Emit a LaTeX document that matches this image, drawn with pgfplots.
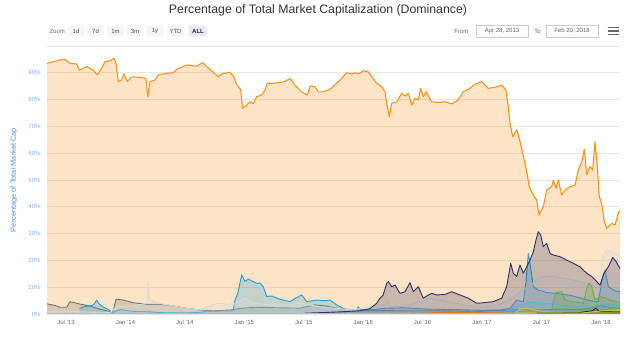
\documentclass[border=0pt]{standalone}
\usepackage{pgfplots}
\usepackage{pgfplotstable}
\pgfplotsset{compat=1.18}
\usepackage{fontspec}
\setmainfont{Liberation Sans}
\definecolor{btc}{HTML}{F7931A}
\definecolor{eth}{HTML}{2C2F66}
\definecolor{xrp}{HTML}{1BA1DA}
\definecolor{oth}{HTML}{DADADA}
\definecolor{ltc}{HTML}{707070}
\definecolor{bch}{HTML}{6AAE45}
\definecolor{tealc}{HTML}{4FB6E0}
\definecolor{yelc}{HTML}{E8C21C}
\definecolor{orsm}{HTML}{E8701C}
\definecolor{blk}{HTML}{222222}
\definecolor{ygr}{HTML}{B8D432}
\definecolor{gridc}{HTML}{E6E6E6}
\definecolor{ytl}{HTML}{8AB0DC}
\definecolor{ylab}{HTML}{4A93DA}
\definecolor{xtl}{HTML}{666666}
\definecolor{btnbg}{HTML}{F6F6F6}
\definecolor{btnsel}{HTML}{E6EBF5}
\newcommand\tb{\fontsize{6}{7}\selectfont}
% month index since Jan 2013 (6 = Jul 2013), share of total market cap in %
\pgfplotstableread{
x y
3.88 93.5
5.19 94.8
5.70 95.0
6.20 93.5
6.88 93.3
7.14 91.0
7.89 92.3
8.55 91.0
8.96 89.2
9.40 91.7
9.73 94.1
10.24 94.5
10.64 95.4
10.85 93.5
11.08 86.7
11.42 87.3
11.65 89.6
11.99 86.7
12.43 88.5
13.27 88.3
13.87 87.9
14.05 81.1
14.28 86.7
14.78 87.3
15.11 89.2
15.96 89.8
16.63 90.0
16.97 91.3
17.98 92.9
18.99 92.5
19.60 93.8
20.00 92.3
21.17 88.5
21.51 89.6
22.35 90.2
22.76 88.5
22.96 86.1
23.43 83.6
23.63 76.8
23.87 77.4
24.37 79.2
24.70 78.6
25.05 81.1
25.55 81.7
25.88 83.6
26.12 86.1
26.72 86.1
27.40 86.4
27.90 86.7
28.41 87.9
28.91 85.4
29.59 82.9
30.16 81.7
30.43 85.1
30.93 84.8
31.27 82.9
31.77 82.9
32.45 83.8
33.12 86.1
33.63 87.9
34.13 90.0
34.64 89.6
34.97 90.0
35.40 89.6
35.81 90.8
36.31 90.4
36.66 88.5
37.16 86.1
37.66 84.8
38.00 82.9
38.17 78.9
38.43 73.6
38.67 78.6
39.18 79.2
39.68 82.3
40.02 81.3
40.35 82.3
40.69 78.0
41.03 80.5
41.36 79.9
41.60 84.2
41.86 81.1
42.14 82.9
42.71 79.2
43.38 78.9
44.06 79.2
44.73 78.4
45.40 79.9
45.90 82.9
46.58 84.2
47.08 85.8
47.76 86.7
48.42 84.2
49.10 84.6
49.78 85.4
50.21 83.6
50.44 77.4
50.62 71.2
50.89 66.2
51.29 68.7
51.55 65.6
51.90 60.0
52.26 54.0
52.56 47.5
52.97 44.4
53.31 42.5
53.54 36.9
53.98 40.0
54.32 46.3
54.82 47.5
54.99 50.0
55.26 46.9
55.49 50.0
55.83 44.4
56.17 46.3
56.67 47.5
57.18 48.1
57.51 53.7
57.85 56.8
58.12 61.5
58.36 51.9
58.69 55.0
58.96 53.7
59.20 64.3
59.43 55.0
59.63 43.8
59.87 41.3
60.10 35.1
60.38 32.0
60.88 33.8
61.21 33.2
61.55 37.6
61.72 38.5
}\btc
\pgfplotstableread{
x y
3.88 3.8
4.69 3.2
5.19 2.5
5.87 2.5
6.20 4.6
7.21 3.7
8.22 3.0
9.23 1.8
10.24 0.9
10.54 0.8
10.85 5.5
11.58 5.2
12.59 4.2
13.94 3.6
15.29 3.6
16.63 3.0
17.98 2.1
19.32 1.5
20.67 1.2
22.35 1.5
23.87 2.3
25.38 2.5
27.40 2.3
29.42 2.2
30.93 3.4
31.94 3.0
33.46 2.0
35.47 1.4
39.51 1.2
43.55 1.2
47.59 1.0
49.61 1.4
51.62 1.6
53.64 1.5
55.66 1.8
57.68 1.6
59.20 2.5
59.70 3.2
60.71 2.4
61.72 2.3
}\ltc
\pgfplotstableread{
x y
7.14 2.1
7.72 2.8
8.22 3.0
8.62 3.5
8.90 5.2
9.13 3.8
9.56 2.5
10.04 1.8
10.54 0.4
10.85 1.2
11.25 1.7
12.56 1.0
14.28 0.8
15.99 0.4
17.81 0.4
19.63 0.7
19.83 1.0
22.66 1.2
22.86 5.2
23.16 8.0
23.53 14.6
23.87 12.1
24.17 13.0
24.54 12.4
25.05 11.4
25.38 11.6
25.71 10.2
26.06 6.5
26.59 6.7
27.40 5.5
28.00 5.0
28.41 4.6
28.91 5.8
29.59 7.1
30.09 4.6
31.10 5.2
31.77 5.0
32.45 5.2
33.12 3.4
33.96 1.7
35.14 1.5
35.30 2.7
35.47 1.7
36.48 1.5
37.80 2.1
39.81 2.3
42.54 1.8
45.57 1.6
47.89 1.4
49.61 1.5
50.62 2.1
51.29 5.2
51.96 4.5
52.23 12.0
52.46 22.6
52.63 19.0
52.81 14.6
52.97 10.2
53.47 9.0
54.32 8.0
55.66 7.5
56.67 7.0
57.68 6.0
58.69 5.0
59.53 4.5
59.97 13.9
60.21 16.4
60.54 10.2
61.04 9.0
61.55 8.3
61.72 8.5
}\xrp
\pgfplotstableread{
x y
3.88 0.8
7.21 0.8
10.24 0.6
10.92 2.7
12.56 3.0
13.94 4.0
14.02 8.0
14.11 11.4
14.23 5.0
14.48 4.8
14.95 4.2
16.60 3.0
17.98 2.1
19.32 1.5
20.00 2.5
21.01 4.0
22.69 3.5
23.87 5.9
24.70 4.0
26.06 3.5
27.73 3.0
29.42 4.0
31.44 2.7
34.77 1.5
36.48 2.7
38.00 3.5
38.30 5.2
38.50 3.0
40.22 3.0
42.54 5.9
44.23 4.6
45.87 3.5
47.89 2.5
49.61 3.5
50.92 6.0
51.93 9.0
52.94 11.5
53.64 13.9
54.96 14.0
56.98 12.7
58.39 11.4
59.40 10.0
59.70 14.0
60.02 22.0
60.41 24.0
60.90 23.0
61.32 22.5
61.72 21.5
}\oth
\pgfplotstableread{
x y
29.92 0.3
31.44 0.5
33.46 0.8
35.47 1.2
36.48 2.0
37.16 4.0
37.49 5.9
37.80 7.0
38.17 11.4
38.33 12.1
38.67 10.2
39.01 10.8
39.51 7.7
40.02 8.3
40.52 11.7
40.86 8.3
41.36 10.2
41.86 5.9
42.37 7.1
42.71 7.7
43.22 7.1
44.06 7.3
44.73 8.3
45.57 7.1
46.41 5.9
47.26 4.0
47.92 4.2
48.93 4.6
49.78 5.9
50.28 10.2
50.69 18.9
50.95 15.2
51.29 14.0
51.62 18.3
51.96 15.2
52.30 17.6
52.63 20.1
52.97 23.2
53.24 27.6
53.47 30.7
53.71 29.5
53.98 25.1
54.32 26.4
54.65 22.6
54.99 22.0
55.66 21.4
56.34 20.1
57.01 18.9
57.68 17.6
58.36 15.2
58.86 14.0
59.37 12.1
59.70 10.8
60.10 15.2
60.54 17.6
60.98 21.1
61.32 19.6
61.72 17.0
}\eth
\pgfplotstableread{
x y
49.95 0.8
51.12 2.5
52.63 4.5
54.65 3.8
56.67 3.0
58.69 2.5
60.21 3.8
61.72 3.2
}\teal
\pgfplotstableread{
x y
54.75 0
54.96 4.0
55.26 8.0
55.83 8.3
56.17 5.2
57.01 4.5
58.02 4.0
58.36 9.6
58.59 11.5
58.86 10.2
59.20 5.2
59.70 6.5
60.21 6.0
60.71 5.2
61.72 4.2
}\bch
\pgfplotstableread{
x y
41.60 0.3
44.0 0.6
48.0 0.5
50.0 0.8
53.0 1.0
56.0 0.9
59.0 0.8
61.72 0.7
}\orsmall
\pgfplotstableread{
x y
51.12 0.5
51.62 1.8
52.43 2.2
53.14 1.5
54.15 0.8
57.68 0.7
59.70 1.0
61.72 1.2
}\yel
\pgfplotstableread{
x y
53.3 0.4
55.7 0.4
57.5 0.5
58.9 1.2
59.3 2.2
59.6 1.0
61.72 0.8
}\blkt
\pgfplotstableread{
x y
3.88 0.2
30 0.2
50 0.3
58 0.4
60 1.2
61.72 1.5
}\ygrt
\newcommand\series[3]{%
  \addplot[draw=none, fill=#2, fill opacity=0.25] table {#1} \closedcycle;
  \addplot[draw=#2, line width=#3, line join=round] table {#1};
}
\begin{document}
\begin{tikzpicture}[x=1pt,y=1pt]
\path[use as bounding box] (0,0) rectangle (640,340);
\node[font=\fontsize{12.3}{14}\selectfont, text=black!80] at (318,329.5) {Percentage of Total Market Capitalization (Dominance)};
\node[anchor=west, font=\tb, text=xtl] at (46,309) {Zoom};
\foreach \cx/\lab in {76/1d, 95.5/7d, 115.5/1m, 135/3m, 155/1y, 175.5/YTD} {
  \node[fill=btnbg, rounded corners=1.5pt, minimum width=17pt, minimum height=11pt, inner sep=0pt, font=\tb, text=black!70] at (\cx,309) {\lab};
}
\node[fill=btnsel, rounded corners=1.5pt, minimum width=18pt, minimum height=11pt, inner sep=0pt, font=\tb\bfseries, text=black!85] at (198,309) {ALL};
\node[anchor=east, font=\tb, text=xtl] at (472,309) {From};
\node[draw=black!20, minimum width=52pt, minimum height=12pt, inner sep=0pt, font=\tb, text=xtl] at (502,309) {Apr 28, 2013};
\node[font=\tb, text=xtl] at (537.5,309) {To};
\node[draw=black!20, minimum width=52pt, minimum height=12pt, inner sep=0pt, font=\tb, text=xtl] at (572,309) {Feb 20, 2018};
\foreach \yy in {305.5,309,312.5} { \draw[line width=1.3pt, xtl] (607.5,\yy) -- (619,\yy); }
\node[rotate=90, font=\fontsize{7.4}{9}\selectfont, text=ylab] at (14,160) {Percentage of Total Market Cap};
\begin{axis}[at={(47pt,26pt)}, anchor=south west, scale only axis,
  width=573pt, height=268pt,
  xmin=3.88, xmax=61.72, ymin=0, ymax=100,
  axis line style={draw=none}, tick style={draw=none},
  ymajorgrids, grid style={color=gridc, line width=0.6pt},
  ytick={0,10,...,100},
  yticklabels={0\%,10\%,20\%,30\%,40\%,50\%,60\%,70\%,80\%,90\%,{}},
  yticklabel style={font=\tb, text=ytl, anchor=east, xshift=-3pt},
  xtick={6,12,...,60},
  xticklabels={Jul '13,Jan '14,Jul '14,Jan '15,Jul '15,Jan '16,Jul '16,Jan '17,Jul '17,Jan '18},
  xticklabel style={font=\tb, text=xtl, xshift=-2pt, yshift=-3pt},
  clip=false]
\series{\btc}{btc}{1.1pt}
\series{\ltc}{ltc}{0.9pt}
\series{\xrp}{xrp}{0.9pt}
\series{\oth}{oth}{0.9pt}
\series{\eth}{eth}{0.9pt}
\series{\teal}{tealc}{0.8pt}
\series{\bch}{bch}{0.9pt}
\series{\orsmall}{orsm}{0.8pt}
\series{\yel}{yelc}{0.8pt}
\series{\blkt}{blk}{0.8pt}
\series{\ygrt}{ygr}{0.8pt}
\end{axis}
\end{tikzpicture}
\end{document}
